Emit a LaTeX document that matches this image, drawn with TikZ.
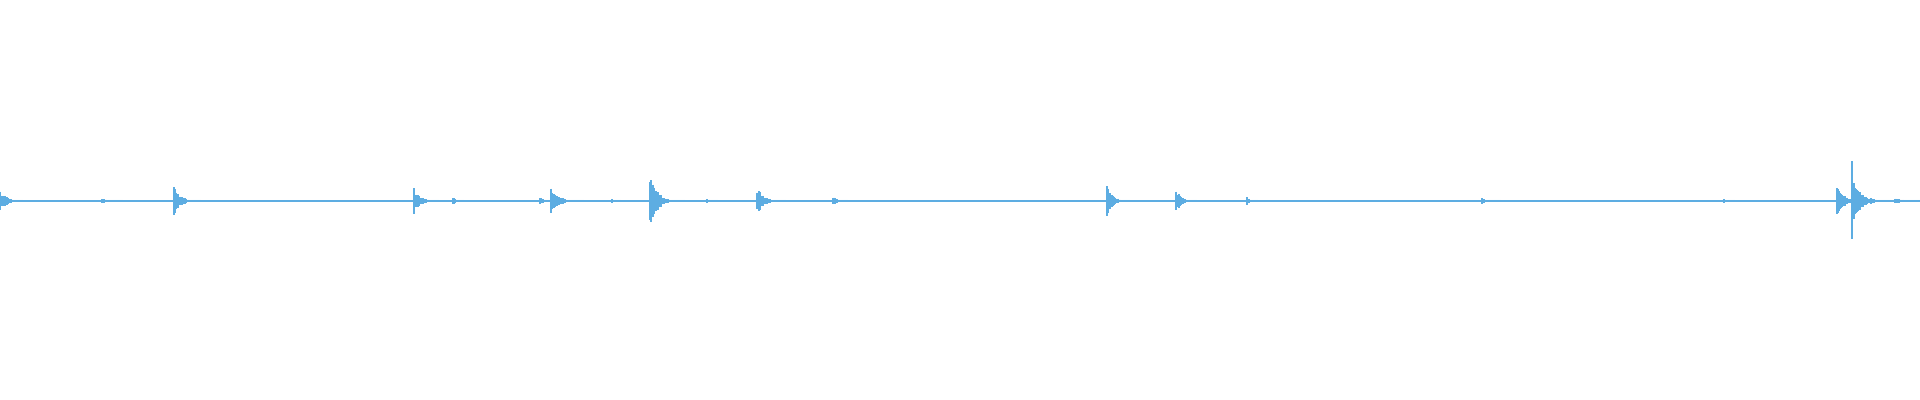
\documentclass[tikz,border=0pt]{standalone}
\usetikzlibrary{calc}
\definecolor{wave}{HTML}{5DADE2}
\tikzset{
  trace/.style={wave,line width=0.7pt},
  tick/.style={wave,line width=0.55pt}
}
\begin{document}
\begin{tikzpicture}[x=0.5pt,y=0.5pt]
\pgfmathsetseed{7}
\useasboundingbox (0,0) rectangle (1920,400);
% baseline
\draw[trace] (0,199) -- (1920,199);
% bursts: start / peak half-height / decay / length
\foreach \xs/\amp/\tau/\len in {0/10/7/22, 102/3/6/20, 174/16/6/26, 414/13/6/24, 453/4/4/10,
  540/5/4/14, 551/13/8/32, 612/2/3/8, 650/28/7/34, 707/3/3/10, 757/15/6/28, 833/5/4/14,
  1107/15/6/22, 1176/13/5/20, 1247/4/3/10, 1482/3/5/18, 1724/2/4/10, 1837/15/7/18,
  1853/20/9/50, 1895/3/10/25}{
  \foreach \i in {0,...,\len}{
    \pgfmathsetmacro{\h}{max(1.0,\amp*exp(-\i/\tau)*(0.55+0.45*rnd))}
    \pgfmathsetmacro{\xx}{\xs+\i}
    \draw[tick] (\xx,199+\h) -- (\xx,199-\h);
  }
}
% sharp spike in the last burst
\draw[tick,line width=0.8pt] (1852,161) -- (1852,239);
\end{tikzpicture}
\end{document}
